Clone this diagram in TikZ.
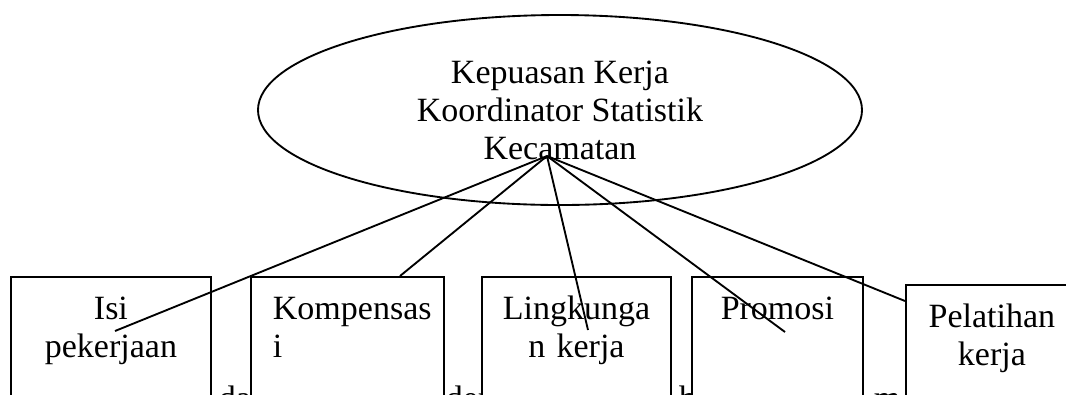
\documentclass[tikz,border=0pt]{standalone}
\usepackage{fontspec}
\setmainfont{Liberation Serif}
\usetikzlibrary{shapes.geometric}

\tikzset{
  factor/.style={draw, fill=white, anchor=north west, inner xsep=6pt, inner ysep=0pt,
    text height=32pt, text depth=80pt, align=center},
  frag/.style={anchor=base west, inner sep=0pt},
}

\begin{document}
\begin{tikzpicture}[x=0.75pt, y=-0.75pt, line width=1.4pt,
  font=\fontsize{25.5pt}{28.5pt}\selectfont]
  \clip (0,0) rectangle (1066,394);
  \node[frag] (fda) at (218,409) {da};
  \node[frag] (fder) at (445,409) {der};
  \node[frag] (fh) at (678,409) {h};
  \node[frag] (fm) at (873,409) {m};
  \node[factor, text width=138pt] (isi) at (10,276) {Isi\\pekerjaan};
  \node[factor, text width=111.75pt, inner xsep=16.5pt, align=left] (komp) at (250,276) {Kompensas\\i};
  \node[factor, text width=129.75pt] (ling) at (481,276) {Lingkunga\\n kerja};
  \node[factor, text width=116.25pt] (prom) at (691,276) {Promosi};
  \node[factor, text width=117pt] (pel) at (905,284) {Pelatihan\\kerja};
  \node[ellipse, draw, minimum width=453pt, minimum height=142.5pt, inner sep=0pt, align=center]
    (kepuasan) at (560,110) {Kepuasan Kerja\\Koordinator Statistik\\Kecamatan};
  \coordinate (hub) at (547,156);
  \coordinate (e1) at (115,331);
  \coordinate (e2) at (400,276);
  \coordinate (e3) at (588,330);
  \coordinate (e4) at (785,332);
  \coordinate (e5) at (905,301);
  \draw (hub) -- (e1);
  \draw (hub) -- (e2);
  \draw (hub) -- (e3);
  \draw (hub) -- (e4);
  \draw (hub) -- (e5);
\end{tikzpicture}
\end{document}
